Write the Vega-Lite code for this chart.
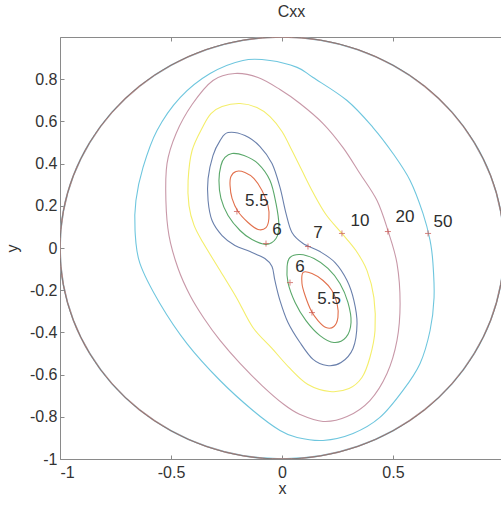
{
  "$schema": "https://vega.github.io/schema/vega-lite/v6.json",
  "width": 441,
  "height": 422,
  "autosize": {"type": "none"},
  "padding": {"left": 60, "top": 37, "right": 0, "bottom": 46},
  "background": "white",
  "title": {"text": "Cxx", "anchor": "middle", "offset": 17, "dx": 11, "fontSize": 16, "font": "Liberation Sans", "fontWeight": "normal", "color": "#333333"},
  "config": {
    "view": {"stroke": null},
    "axis": {
      "grid": false,
      "domainColor": "#8a8a8a",
      "tickColor": "#8a8a8a",
      "tickSize": -4,
      "labelFont": "Liberation Sans",
      "labelFontSize": 16,
      "labelColor": "#333333",
      "titleFont": "Liberation Sans",
      "titleFontSize": 16,
      "titleFontWeight": "normal",
      "titleColor": "#333333"
    }
  },
  "datasets": {
    "boundary": [
      {"i": 0, "x": 1.0, "y": 0.0}, {"i": 1, "x": 0.985, "y": 0.174}, {"i": 2, "x": 0.94, "y": 0.342},
      {"i": 3, "x": 0.866, "y": 0.5}, {"i": 4, "x": 0.766, "y": 0.643}, {"i": 5, "x": 0.643, "y": 0.766},
      {"i": 6, "x": 0.5, "y": 0.866}, {"i": 7, "x": 0.342, "y": 0.94}, {"i": 8, "x": 0.174, "y": 0.985},
      {"i": 9, "x": 0.0, "y": 1.0}, {"i": 10, "x": -0.174, "y": 0.985}, {"i": 11, "x": -0.342, "y": 0.94},
      {"i": 12, "x": -0.5, "y": 0.866}, {"i": 13, "x": -0.643, "y": 0.766}, {"i": 14, "x": -0.766, "y": 0.643},
      {"i": 15, "x": -0.866, "y": 0.5}, {"i": 16, "x": -0.94, "y": 0.342}, {"i": 17, "x": -0.985, "y": 0.174},
      {"i": 18, "x": -1.0, "y": 0.0}, {"i": 19, "x": -0.985, "y": -0.174}, {"i": 20, "x": -0.94, "y": -0.342},
      {"i": 21, "x": -0.866, "y": -0.5}, {"i": 22, "x": -0.766, "y": -0.643}, {"i": 23, "x": -0.643, "y": -0.766},
      {"i": 24, "x": -0.5, "y": -0.866}, {"i": 25, "x": -0.342, "y": -0.94}, {"i": 26, "x": -0.174, "y": -0.985},
      {"i": 27, "x": 0.0, "y": -1.0}, {"i": 28, "x": 0.174, "y": -0.985}, {"i": 29, "x": 0.342, "y": -0.94},
      {"i": 30, "x": 0.5, "y": -0.866}, {"i": 31, "x": 0.643, "y": -0.766}, {"i": 32, "x": 0.766, "y": -0.643},
      {"i": 33, "x": 0.866, "y": -0.5}, {"i": 34, "x": 0.94, "y": -0.342}, {"i": 35, "x": 0.985, "y": -0.174}
    ],
    "contours": [
      {"lv": "5.5", "id": "r1", "i": 0, "x": -0.207, "y": 0.363},
      {"lv": "5.5", "id": "r1", "i": 1, "x": -0.167, "y": 0.358},
      {"lv": "5.5", "id": "r1", "i": 2, "x": -0.126, "y": 0.329},
      {"lv": "5.5", "id": "r1", "i": 3, "x": -0.09, "y": 0.273},
      {"lv": "5.5", "id": "r1", "i": 4, "x": -0.063, "y": 0.201},
      {"lv": "5.5", "id": "r1", "i": 5, "x": -0.059, "y": 0.14},
      {"lv": "5.5", "id": "r1", "i": 6, "x": -0.072, "y": 0.097},
      {"lv": "5.5", "id": "r1", "i": 7, "x": -0.108, "y": 0.088},
      {"lv": "5.5", "id": "r1", "i": 8, "x": -0.153, "y": 0.121},
      {"lv": "5.5", "id": "r1", "i": 9, "x": -0.198, "y": 0.173},
      {"lv": "5.5", "id": "r1", "i": 10, "x": -0.225, "y": 0.235},
      {"lv": "5.5", "id": "r1", "i": 11, "x": -0.234, "y": 0.296},
      {"lv": "5.5", "id": "r1", "i": 12, "x": -0.23, "y": 0.339},

      {"lv": "5.5", "id": "r2", "i": 0, "x": 0.095, "y": -0.116},
      {"lv": "5.5", "id": "r2", "i": 1, "x": 0.135, "y": -0.121},
      {"lv": "5.5", "id": "r2", "i": 2, "x": 0.185, "y": -0.154},
      {"lv": "5.5", "id": "r2", "i": 3, "x": 0.225, "y": -0.201},
      {"lv": "5.5", "id": "r2", "i": 4, "x": 0.248, "y": -0.263},
      {"lv": "5.5", "id": "r2", "i": 5, "x": 0.252, "y": -0.329},
      {"lv": "5.5", "id": "r2", "i": 6, "x": 0.234, "y": -0.372},
      {"lv": "5.5", "id": "r2", "i": 7, "x": 0.198, "y": -0.377},
      {"lv": "5.5", "id": "r2", "i": 8, "x": 0.162, "y": -0.344},
      {"lv": "5.5", "id": "r2", "i": 9, "x": 0.131, "y": -0.296},
      {"lv": "5.5", "id": "r2", "i": 10, "x": 0.104, "y": -0.225},
      {"lv": "5.5", "id": "r2", "i": 11, "x": 0.09, "y": -0.168},

      {"lv": "6", "id": "g1", "i": 0, "x": -0.225, "y": 0.448},
      {"lv": "6", "id": "g1", "i": 1, "x": -0.171, "y": 0.438},
      {"lv": "6", "id": "g1", "i": 2, "x": -0.108, "y": 0.4},
      {"lv": "6", "id": "g1", "i": 3, "x": -0.054, "y": 0.32},
      {"lv": "6", "id": "g1", "i": 4, "x": -0.027, "y": 0.211},
      {"lv": "6", "id": "g1", "i": 5, "x": -0.014, "y": 0.107},
      {"lv": "6", "id": "g1", "i": 6, "x": -0.027, "y": 0.045},
      {"lv": "6", "id": "g1", "i": 7, "x": -0.072, "y": 0.017},
      {"lv": "6", "id": "g1", "i": 8, "x": -0.135, "y": 0.04},
      {"lv": "6", "id": "g1", "i": 9, "x": -0.189, "y": 0.083},
      {"lv": "6", "id": "g1", "i": 10, "x": -0.243, "y": 0.154},
      {"lv": "6", "id": "g1", "i": 11, "x": -0.275, "y": 0.235},
      {"lv": "6", "id": "g1", "i": 12, "x": -0.284, "y": 0.32},
      {"lv": "6", "id": "g1", "i": 13, "x": -0.275, "y": 0.391},
      {"lv": "6", "id": "g1", "i": 14, "x": -0.257, "y": 0.429},

      {"lv": "6", "id": "g2", "i": 0, "x": 0.036, "y": -0.045},
      {"lv": "6", "id": "g2", "i": 1, "x": 0.081, "y": -0.031},
      {"lv": "6", "id": "g2", "i": 2, "x": 0.144, "y": -0.05},
      {"lv": "6", "id": "g2", "i": 3, "x": 0.207, "y": -0.097},
      {"lv": "6", "id": "g2", "i": 4, "x": 0.261, "y": -0.168},
      {"lv": "6", "id": "g2", "i": 5, "x": 0.297, "y": -0.258},
      {"lv": "6", "id": "g2", "i": 6, "x": 0.311, "y": -0.353},
      {"lv": "6", "id": "g2", "i": 7, "x": 0.288, "y": -0.424},
      {"lv": "6", "id": "g2", "i": 8, "x": 0.234, "y": -0.448},
      {"lv": "6", "id": "g2", "i": 9, "x": 0.171, "y": -0.415},
      {"lv": "6", "id": "g2", "i": 10, "x": 0.108, "y": -0.344},
      {"lv": "6", "id": "g2", "i": 11, "x": 0.059, "y": -0.258},
      {"lv": "6", "id": "g2", "i": 12, "x": 0.027, "y": -0.164},
      {"lv": "6", "id": "g2", "i": 13, "x": 0.023, "y": -0.088},

      {"lv": "7", "id": "b", "i": 0, "x": -0.243, "y": 0.547},
      {"lv": "7", "id": "b", "i": 1, "x": -0.167, "y": 0.533},
      {"lv": "7", "id": "b", "i": 2, "x": -0.099, "y": 0.481},
      {"lv": "7", "id": "b", "i": 3, "x": -0.045, "y": 0.4},
      {"lv": "7", "id": "b", "i": 4, "x": -0.009, "y": 0.287},
      {"lv": "7", "id": "b", "i": 5, "x": 0.018, "y": 0.164},
      {"lv": "7", "id": "b", "i": 6, "x": 0.045, "y": 0.073},
      {"lv": "7", "id": "b", "i": 7, "x": 0.095, "y": 0.021},
      {"lv": "7", "id": "b", "i": 8, "x": 0.171, "y": -0.017},
      {"lv": "7", "id": "b", "i": 9, "x": 0.239, "y": -0.069},
      {"lv": "7", "id": "b", "i": 10, "x": 0.293, "y": -0.154},
      {"lv": "7", "id": "b", "i": 11, "x": 0.324, "y": -0.249},
      {"lv": "7", "id": "b", "i": 12, "x": 0.338, "y": -0.358},
      {"lv": "7", "id": "b", "i": 13, "x": 0.32, "y": -0.476},
      {"lv": "7", "id": "b", "i": 14, "x": 0.266, "y": -0.543},
      {"lv": "7", "id": "b", "i": 15, "x": 0.203, "y": -0.557},
      {"lv": "7", "id": "b", "i": 16, "x": 0.14, "y": -0.528},
      {"lv": "7", "id": "b", "i": 17, "x": 0.081, "y": -0.448},
      {"lv": "7", "id": "b", "i": 18, "x": 0.027, "y": -0.353},
      {"lv": "7", "id": "b", "i": 19, "x": -0.009, "y": -0.249},
      {"lv": "7", "id": "b", "i": 20, "x": -0.032, "y": -0.154},
      {"lv": "7", "id": "b", "i": 21, "x": -0.045, "y": -0.088},
      {"lv": "7", "id": "b", "i": 22, "x": -0.077, "y": -0.05},
      {"lv": "7", "id": "b", "i": 23, "x": -0.144, "y": -0.017},
      {"lv": "7", "id": "b", "i": 24, "x": -0.212, "y": 0.012},
      {"lv": "7", "id": "b", "i": 25, "x": -0.27, "y": 0.059},
      {"lv": "7", "id": "b", "i": 26, "x": -0.315, "y": 0.13},
      {"lv": "7", "id": "b", "i": 27, "x": -0.333, "y": 0.225},
      {"lv": "7", "id": "b", "i": 28, "x": -0.333, "y": 0.329},
      {"lv": "7", "id": "b", "i": 29, "x": -0.311, "y": 0.438},
      {"lv": "7", "id": "b", "i": 30, "x": -0.279, "y": 0.509},

      {"lv": "10", "id": "yl", "i": 0, "x": -0.27, "y": 0.671},
      {"lv": "10", "id": "yl", "i": 1, "x": -0.189, "y": 0.685},
      {"lv": "10", "id": "yl", "i": 2, "x": -0.113, "y": 0.666},
      {"lv": "10", "id": "yl", "i": 3, "x": -0.054, "y": 0.623},
      {"lv": "10", "id": "yl", "i": 4, "x": 0.0, "y": 0.552},
      {"lv": "10", "id": "yl", "i": 5, "x": 0.045, "y": 0.462},
      {"lv": "10", "id": "yl", "i": 6, "x": 0.09, "y": 0.367},
      {"lv": "10", "id": "yl", "i": 7, "x": 0.14, "y": 0.263},
      {"lv": "10", "id": "yl", "i": 8, "x": 0.198, "y": 0.159},
      {"lv": "10", "id": "yl", "i": 9, "x": 0.27, "y": 0.069},
      {"lv": "10", "id": "yl", "i": 10, "x": 0.333, "y": -0.012},
      {"lv": "10", "id": "yl", "i": 11, "x": 0.383, "y": -0.107},
      {"lv": "10", "id": "yl", "i": 12, "x": 0.414, "y": -0.235},
      {"lv": "10", "id": "yl", "i": 13, "x": 0.419, "y": -0.391},
      {"lv": "10", "id": "yl", "i": 14, "x": 0.396, "y": -0.519},
      {"lv": "10", "id": "yl", "i": 15, "x": 0.36, "y": -0.614},
      {"lv": "10", "id": "yl", "i": 16, "x": 0.302, "y": -0.666},
      {"lv": "10", "id": "yl", "i": 17, "x": 0.216, "y": -0.68},
      {"lv": "10", "id": "yl", "i": 18, "x": 0.117, "y": -0.647},
      {"lv": "10", "id": "yl", "i": 19, "x": 0.036, "y": -0.571},
      {"lv": "10", "id": "yl", "i": 20, "x": -0.045, "y": -0.476},
      {"lv": "10", "id": "yl", "i": 21, "x": -0.131, "y": -0.377},
      {"lv": "10", "id": "yl", "i": 22, "x": -0.203, "y": -0.239},
      {"lv": "10", "id": "yl", "i": 23, "x": -0.279, "y": -0.107},
      {"lv": "10", "id": "yl", "i": 24, "x": -0.356, "y": 0.026},
      {"lv": "10", "id": "yl", "i": 25, "x": -0.396, "y": 0.107},
      {"lv": "10", "id": "yl", "i": 26, "x": -0.419, "y": 0.201},
      {"lv": "10", "id": "yl", "i": 27, "x": -0.423, "y": 0.32},
      {"lv": "10", "id": "yl", "i": 28, "x": -0.405, "y": 0.462},
      {"lv": "10", "id": "yl", "i": 29, "x": -0.356, "y": 0.576},
      {"lv": "10", "id": "yl", "i": 30, "x": -0.32, "y": 0.637},

      {"lv": "20", "id": "p", "i": 0, "x": -0.311, "y": 0.794},
      {"lv": "20", "id": "p", "i": 1, "x": -0.212, "y": 0.827},
      {"lv": "20", "id": "p", "i": 2, "x": -0.108, "y": 0.808},
      {"lv": "20", "id": "p", "i": 3, "x": -0.009, "y": 0.751},
      {"lv": "20", "id": "p", "i": 4, "x": 0.081, "y": 0.685},
      {"lv": "20", "id": "p", "i": 5, "x": 0.185, "y": 0.59},
      {"lv": "20", "id": "p", "i": 6, "x": 0.275, "y": 0.476},
      {"lv": "20", "id": "p", "i": 7, "x": 0.351, "y": 0.353},
      {"lv": "20", "id": "p", "i": 8, "x": 0.428, "y": 0.225},
      {"lv": "20", "id": "p", "i": 9, "x": 0.477, "y": 0.083},
      {"lv": "20", "id": "p", "i": 10, "x": 0.518, "y": -0.073},
      {"lv": "20", "id": "p", "i": 11, "x": 0.532, "y": -0.263},
      {"lv": "20", "id": "p", "i": 12, "x": 0.518, "y": -0.438},
      {"lv": "20", "id": "p", "i": 13, "x": 0.473, "y": -0.595},
      {"lv": "20", "id": "p", "i": 14, "x": 0.396, "y": -0.723},
      {"lv": "20", "id": "p", "i": 15, "x": 0.293, "y": -0.799},
      {"lv": "20", "id": "p", "i": 16, "x": 0.185, "y": -0.822},
      {"lv": "20", "id": "p", "i": 17, "x": 0.081, "y": -0.789},
      {"lv": "20", "id": "p", "i": 18, "x": 0.009, "y": -0.742},
      {"lv": "20", "id": "p", "i": 19, "x": -0.09, "y": -0.652},
      {"lv": "20", "id": "p", "i": 20, "x": -0.189, "y": -0.547},
      {"lv": "20", "id": "p", "i": 21, "x": -0.279, "y": -0.438},
      {"lv": "20", "id": "p", "i": 22, "x": -0.351, "y": -0.334},
      {"lv": "20", "id": "p", "i": 23, "x": -0.414, "y": -0.225},
      {"lv": "20", "id": "p", "i": 24, "x": -0.468, "y": -0.097},
      {"lv": "20", "id": "p", "i": 25, "x": -0.509, "y": 0.059},
      {"lv": "20", "id": "p", "i": 26, "x": -0.523, "y": 0.225},
      {"lv": "20", "id": "p", "i": 27, "x": -0.518, "y": 0.4},
      {"lv": "20", "id": "p", "i": 28, "x": -0.477, "y": 0.543},
      {"lv": "20", "id": "p", "i": 29, "x": -0.405, "y": 0.68},

      {"lv": "50", "id": "c", "i": 0, "x": -0.324, "y": 0.827},
      {"lv": "50", "id": "c", "i": 1, "x": -0.176, "y": 0.889},
      {"lv": "50", "id": "c", "i": 2, "x": -0.054, "y": 0.889},
      {"lv": "50", "id": "c", "i": 3, "x": 0.068, "y": 0.856},
      {"lv": "50", "id": "c", "i": 4, "x": 0.14, "y": 0.808},
      {"lv": "50", "id": "c", "i": 5, "x": 0.293, "y": 0.699},
      {"lv": "50", "id": "c", "i": 6, "x": 0.41, "y": 0.571},
      {"lv": "50", "id": "c", "i": 7, "x": 0.5, "y": 0.448},
      {"lv": "50", "id": "c", "i": 8, "x": 0.577, "y": 0.32},
      {"lv": "50", "id": "c", "i": 9, "x": 0.635, "y": 0.164},
      {"lv": "50", "id": "c", "i": 10, "x": 0.667, "y": 0.036},
      {"lv": "50", "id": "c", "i": 11, "x": 0.68, "y": -0.073},
      {"lv": "50", "id": "c", "i": 12, "x": 0.685, "y": -0.235},
      {"lv": "50", "id": "c", "i": 13, "x": 0.667, "y": -0.391},
      {"lv": "50", "id": "c", "i": 14, "x": 0.622, "y": -0.547},
      {"lv": "50", "id": "c", "i": 15, "x": 0.545, "y": -0.675},
      {"lv": "50", "id": "c", "i": 16, "x": 0.441, "y": -0.803},
      {"lv": "50", "id": "c", "i": 17, "x": 0.32, "y": -0.879},
      {"lv": "50", "id": "c", "i": 18, "x": 0.185, "y": -0.912},
      {"lv": "50", "id": "c", "i": 19, "x": 0.068, "y": -0.898},
      {"lv": "50", "id": "c", "i": 20, "x": -0.009, "y": -0.865},
      {"lv": "50", "id": "c", "i": 21, "x": -0.131, "y": -0.77},
      {"lv": "50", "id": "c", "i": 22, "x": -0.279, "y": -0.628},
      {"lv": "50", "id": "c", "i": 23, "x": -0.428, "y": -0.453},
      {"lv": "50", "id": "c", "i": 24, "x": -0.55, "y": -0.263},
      {"lv": "50", "id": "c", "i": 25, "x": -0.64, "y": -0.073},
      {"lv": "50", "id": "c", "i": 26, "x": -0.662, "y": 0.083},
      {"lv": "50", "id": "c", "i": 27, "x": -0.658, "y": 0.225},
      {"lv": "50", "id": "c", "i": 28, "x": -0.626, "y": 0.382},
      {"lv": "50", "id": "c", "i": 29, "x": -0.563, "y": 0.557},
      {"lv": "50", "id": "c", "i": 30, "x": -0.459, "y": 0.713}
    ],
    "labels": [
      {"text": "5.5", "x": -0.113, "y": 0.225},
      {"text": "6", "x": -0.023, "y": 0.083},
      {"text": "7", "x": 0.162, "y": 0.073},
      {"text": "6", "x": 0.081, "y": -0.088},
      {"text": "5.5", "x": 0.212, "y": -0.244},
      {"text": "10", "x": 0.351, "y": 0.13},
      {"text": "20", "x": 0.554, "y": 0.145},
      {"text": "50", "x": 0.725, "y": 0.121}
    ],
    "crosses": [
      {"x": -0.203, "y": 0.173},
      {"x": -0.072, "y": 0.021},
      {"x": 0.117, "y": 0.007},
      {"x": 0.27, "y": 0.069},
      {"x": 0.477, "y": 0.078},
      {"x": 0.658, "y": 0.069},
      {"x": 0.036, "y": -0.164},
      {"x": 0.135, "y": -0.306}
    ]
  },
  "resolve": {"axis": {"x": "independent", "y": "independent"}},
  "layer": [
    {
      "data": {"name": "boundary"},
      "mark": {"type": "line", "interpolate": "cardinal-closed", "clip": true, "stroke": "#7ccbe0", "strokeWidth": 1.6},
      "encoding": {
        "x": {"field": "x", "type": "quantitative", "scale": {"domain": [-1, 0.9865], "nice": false, "zero": false},
              "axis": {"orient": "top", "labels": false, "values": [-1, -0.5, 0, 0.5], "title": null}},
        "y": {"field": "y", "type": "quantitative", "scale": {"domain": [-1, 1], "nice": false, "zero": false}, "axis": null},
        "order": {"field": "i", "type": "quantitative"}
      }
    },
    {
      "data": {"name": "boundary"},
      "mark": {"type": "line", "interpolate": "cardinal-closed", "clip": true, "stroke": "#e49088", "strokeWidth": 1.3},
      "encoding": {
        "x": {"field": "x", "type": "quantitative", "axis": null},
        "y": {"field": "y", "type": "quantitative", "axis": null},
        "order": {"field": "i", "type": "quantitative"}
      }
    },
    {
      "data": {"name": "boundary"},
      "mark": {"type": "line", "interpolate": "cardinal-closed", "clip": true, "stroke": "#7c7a7a", "strokeWidth": 1},
      "encoding": {
        "x": {"field": "x", "type": "quantitative", "axis": null},
        "y": {"field": "y", "type": "quantitative", "axis": null},
        "order": {"field": "i", "type": "quantitative"}
      }
    },
    {
      "data": {"name": "contours"},
      "mark": {"type": "line", "interpolate": "cardinal-closed", "clip": true, "strokeWidth": 1.1},
      "encoding": {
        "x": {"field": "x", "type": "quantitative",
              "axis": {"orient": "bottom", "values": [-1, -0.5, 0, 0.5], "labelExpr": "'' + datum.value", "labelPadding": 9,
                       "title": "x", "titleX": 222, "titleY": 29, "titleBaseline": "middle"}},
        "y": {"field": "y", "type": "quantitative",
              "axis": {"orient": "left", "values": [-1, -0.8, -0.6, -0.4, -0.2, 0, 0.2, 0.4, 0.6, 0.8], "labelExpr": "'' + datum.value", "labelPadding": 7,
                       "title": "y", "titleX": -48, "titleY": 211, "titleBaseline": "middle"}},
        "color": {"field": "lv", "type": "nominal", "legend": null,
                  "scale": {"domain": ["5.5", "6", "7", "10", "20", "50"],
                            "range": ["#e2704c", "#5aa86a", "#6a80ac", "#f4ee6a", "#c898a8", "#6ec6de"]}},
        "detail": {"field": "id"},
        "order": {"field": "i", "type": "quantitative"}
      }
    },
    {
      "data": {"name": "crosses"},
      "mark": {"type": "point", "shape": "M-1,0H1M0,-1V1", "size": 36, "filled": false, "stroke": "#c8504a", "strokeWidth": 1},
      "encoding": {
        "x": {"field": "x", "type": "quantitative", "axis": null},
        "y": {"field": "y", "type": "quantitative", "axis": null}
      }
    },
    {
      "data": {"name": "labels"},
      "mark": {"type": "text", "font": "Liberation Sans", "fontSize": 17, "color": "#2e2e2e", "align": "center", "baseline": "middle"},
      "encoding": {
        "x": {"field": "x", "type": "quantitative", "axis": null},
        "y": {"field": "y", "type": "quantitative", "axis": null},
        "text": {"field": "text"}
      }
    }
  ]
}
